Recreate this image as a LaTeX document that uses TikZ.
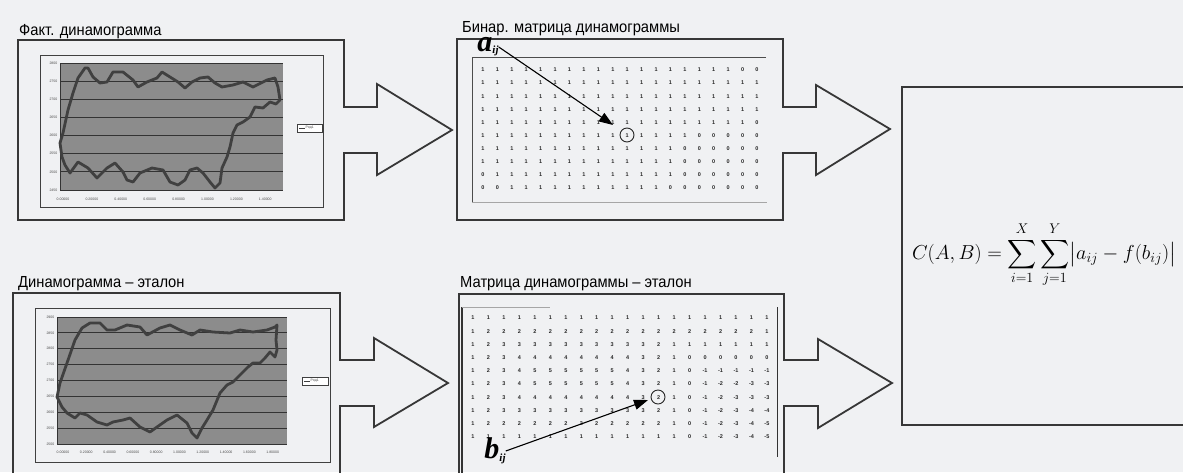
\documentclass[tikz,border=0pt]{standalone}
\usepackage{exscale}
\usepackage{amsmath}
\usepackage[no-math]{fontspec}
\setmainfont{Liberation Sans}
\newfontfamily\titlefont[FakeStretch=0.92]{Liberation Sans}
\newfontfamily\labelserif{Liberation Serif}
\usetikzlibrary{arrows.meta}
\definecolor{paper}{RGB}{240,241,243}
\definecolor{ink}{RGB}{55,55,55}
\begin{document}
\begin{tikzpicture}[x=1pt, y=-1pt, >={Triangle[length=14pt,width=10pt]},
    outline/.style={draw=ink, line width=1.8pt, line join=miter},
    title/.style={anchor=base west, inner sep=0pt, font=\titlefont\fontsize{16}{16}\selectfont},
    digit/.style={inner sep=0pt, font=\bfseries\fontsize{5.5}{6}\selectfont, text=black!85},
    ticklabel/.style={inner sep=0.5pt, font=\fontsize{3.5}{4}\selectfont, text=black!70},
    gridline/.style={draw=black!80, line width=0.9pt},
    plotarea/.style={fill=black!45},
    chartframe/.style={draw=black!75, line width=0.9pt},
    curve/.style={draw=black!75, line width=2.8pt, line join=round},
    cellmark/.style={draw=black!85, circle, line width=0.9pt, minimum size=14pt, inner sep=0pt},
    letter/.style={inner sep=0pt, font=\labelserif\bfseries\itshape\fontsize{30}{30}\selectfont}]
  \fill[paper] (0,0) rectangle (1183,472);
  \useasboundingbox (0,0) rectangle (1183,472);
  \clip (0,0) rectangle (1183,472);

  % titles
  \node (facttitle) [title] at (19,35) {Факт. динамограмма};
  \node (bintitle) [title] at (462,32) {Бинар. матрица динамограммы};
  \node (etaltitle) [title] at (18,287) {Динамограмма – эталон};
  \node (mattitle) [title] at (460,287) {Матрица динамограммы – эталон};

  % boxes with their block arrows
  \draw[outline] (344,107) -- (377,107) -- (377,84) -- (452,130) -- (377,175) -- (377,153) -- (344,153)
    -- (344,220) -- (18,220) -- (18,40) -- (344,40) -- cycle;
  \draw[outline] (783,107) -- (816,107) -- (816,85) -- (890,129) -- (816,175) -- (816,153) -- (783,153)
    -- (783,220) -- (457,220) -- (457,39) -- (783,39) -- cycle;
  \draw[outline] (340,360) -- (374,360) -- (374,338) -- (448,383) -- (374,427) -- (374,406) -- (340,406)
    -- (340,480) -- (13,480) -- (13,293) -- (340,293) -- cycle;
  \draw[outline] (784,360) -- (818,360) -- (818,339) -- (892,383) -- (818,428) -- (818,406) -- (784,406)
    -- (784,480) -- (459,480) -- (459,294) -- (784,294) -- cycle;
  \draw[outline] (1190,87) -- (902,87) -- (902,425) -- (1190,425);

  % chart: fact
  \draw[chartframe] (40,55) rectangle (323,207);
  \fill[plotarea] (60,63) rectangle (283,190);
  \foreach \v [count=\k from 0] in {2800,2750,2700,2650,2600,2550,2500,2450} {
    \draw[gridline] (60,{63+\k*18.14}) -- (283,{63+\k*18.14});
    \node[ticklabel, anchor=east] at (58,{63+\k*18.14}) {\v};
  }
  \draw[gridline] (60,63) -- (60,190);
  \foreach \v [count=\k from 0] in {0.00000,0.20000,0.40000,0.60000,0.80000,1.00000,1.20000,1.40000}
    \node[ticklabel] at ({63+\k*28.9},199) {\v};
  \draw[curve] plot coordinates {(60,143) (63,133) (68,110) (73,93) (78,78) (85,68) (88,68)
    (93,77) (100,83) (107,82) (113,72) (123,72) (133,80) (138,87) (147,82) (157,78) (162,72) (170,77)
    (178,82) (185,88) (192,82) (200,78) (208,77) (215,83) (222,87) (233,85) (243,82) (253,87) (267,80)
    (275,78) (278,87) (280,100) (276,104) (270,102) (263,108) (255,107) (250,117) (243,122) (237,125)
    (233,133) (230,147) (227,157) (222,168) (220,183) (215,188) (210,182) (203,173) (197,168) (190,170)
    (185,180) (178,185) (170,182) (163,170) (152,168) (140,173) (133,182) (127,180) (123,172) (115,163)
    (107,168) (97,178) (88,168) (78,162) (70,173) (65,165) (62,157)} -- cycle;
  \draw[fill=white, draw=black!75, line width=0.7pt] (297,124) rectangle (322,132);
  \draw[black!75, line width=0.8pt] (299,128) -- (305,128);
  \node[ticklabel, anchor=west] at (305,128) {Ряд1};

  % chart: etalon
  \draw[chartframe] (35,308) rectangle (330,462);
  \fill[plotarea] (57,317) rectangle (287,444);
  \foreach \v [count=\k from 0] in {2900,2850,2800,2750,2700,2650,2600,2550,2500} {
    \draw[gridline] (57,{317+\k*15.875}) -- (287,{317+\k*15.875});
    \node[ticklabel, anchor=east] at (55,{317+\k*15.875}) {\v};
  }
  \draw[gridline] (57,317) -- (57,444);
  \foreach \v [count=\k from 0] in {0.00000,0.20000,0.40000,0.60000,0.80000,1.00000,1.20000,1.40000,1.60000,1.80000}
    \node[ticklabel] at ({63+\k*23.3},452) {\v};
  \draw[curve] plot coordinates {(57,397) (60,383) (67,363) (75,340) (82,328) (90,323)
    (100,323) (107,330) (115,330) (127,325) (140,327) (147,335) (160,328) (170,325) (180,330) (192,335)
    (200,330) (213,332) (230,333) (240,330) (253,332) (267,330) (275,327) (277,325) (276,340) (277,350)
    (275,357) (270,352) (265,358) (260,363) (253,363) (248,367) (242,373) (233,382) (227,385) (220,393)
    (213,410) (207,420) (202,428) (197,438) (192,433) (187,423) (177,415) (167,420) (157,427) (150,432)
    (140,427) (130,418) (123,420) (113,422) (107,425) (97,422) (87,415) (80,413) (75,418) (67,413)
    (62,407)} -- cycle;
  \draw[fill=white, draw=black!75, line width=0.7pt] (302,377) rectangle (328,385);
  \draw[black!75, line width=0.8pt] (304,381) -- (310,381);
  \node[ticklabel, anchor=west] at (310,381) {Ряд1};

  % binary matrix
  \draw[black!70, line width=0.8pt] (766,57) -- (472,57) -- (472,202);
  \draw[black!35, line width=0.8pt] (472,202) -- (767,202);
  \foreach \row [count=\r] in {
      {1,1,1,1,1,1,1,1,1,1,1,1,1,1,1,1,1,1,0,0},
      {1,1,1,1,1,1,1,1,1,1,1,1,1,1,1,1,1,1,1,1},
      {1,1,1,1,1,1,1,1,1,1,1,1,1,1,1,1,1,1,1,1},
      {1,1,1,1,1,1,1,1,1,1,1,1,1,1,1,1,1,1,1,1},
      {1,1,1,1,1,1,1,1,1,1,1,1,1,1,1,1,1,1,1,0},
      {1,1,1,1,1,1,1,1,1,1,1,1,1,1,1,0,0,0,0,0},
      {1,1,1,1,1,1,1,1,1,1,1,1,1,1,0,0,0,0,0,0},
      {1,1,1,1,1,1,1,1,1,1,1,1,1,1,0,0,0,0,0,0},
      {0,1,1,1,1,1,1,1,1,1,1,1,1,1,0,0,0,0,0,0},
      {0,0,1,1,1,1,1,1,1,1,1,1,1,0,0,0,0,0,0,0}}
    \foreach \v [count=\c] in \row
      \node[digit] at ({483+(\c-1)*14.42},{70+(\r-1)*13.1}) {\v};
  \node (acell) [cellmark] at (627,135) {};
  \node (alabel) [letter] at (488,47) {a\raisebox{-2pt}{\fontsize{11}{11}\selectfont ij}};
  \coordinate (atip) at (613,125);
  \draw[->, line width=1.1pt] (alabel.east) -- (atip);

  % etalon matrix
  \draw[black!80, line width=1.6pt] (462,307) -- (462,480);
  \draw[black!35, line width=0.8pt] (462,307) -- (550,307);
  \draw[black!80, line width=0.7pt] (777,307) -- (777,457);
  \foreach \row [count=\r] in {
      {1,1,1,1,1,1,1,1,1,1,1,1,1,1,1,1,1,1,1,1},
      {1,2,2,2,2,2,2,2,2,2,2,2,2,2,2,2,2,2,2,1},
      {1,2,3,3,3,3,3,3,3,3,3,3,2,1,1,1,1,1,1,1},
      {1,2,3,4,4,4,4,4,4,4,4,3,2,1,0,0,0,0,0,0},
      {1,2,3,4,5,5,5,5,5,5,4,3,2,1,0,-1,-1,-1,-1,-1},
      {1,2,3,4,5,5,5,5,5,5,4,3,2,1,0,-1,-2,-2,-3,-3},
      {1,2,3,4,4,4,4,4,4,4,4,3,2,1,0,-1,-2,-3,-3,-3},
      {1,2,3,3,3,3,3,3,3,3,3,3,2,1,0,-1,-2,-3,-4,-4},
      {1,2,2,2,2,2,2,2,2,2,2,2,2,1,0,-1,-2,-3,-4,-5},
      {1,1,1,1,1,1,1,1,1,1,1,1,1,1,0,-1,-2,-3,-4,-5}}
    \foreach \v [count=\c] in \row
      \node[digit] at ({473+(\c-1)*15.47},{318+(\r-1)*13.2}) {\v};
  \node (bcell) [cellmark] at (658,397) {};
  \node (blabel) [letter] at (495,451) {b\raisebox{-3pt}{\fontsize{11}{11}\selectfont ij}};
  \coordinate (btip) at (648,400);
  \draw[->, line width=1.1pt] (blabel.east) -- (btip);

  % criterion
  \node (formula) [scale=0.975] at (1044,255)
    {\fontsize{20}{24}\selectfont$\displaystyle C(A,B)=\sum_{i=1}^{X}\sum_{j=1}^{Y}\bigl|a_{ij}-f(b_{ij})\bigr|$};
\end{tikzpicture}
\end{document}
